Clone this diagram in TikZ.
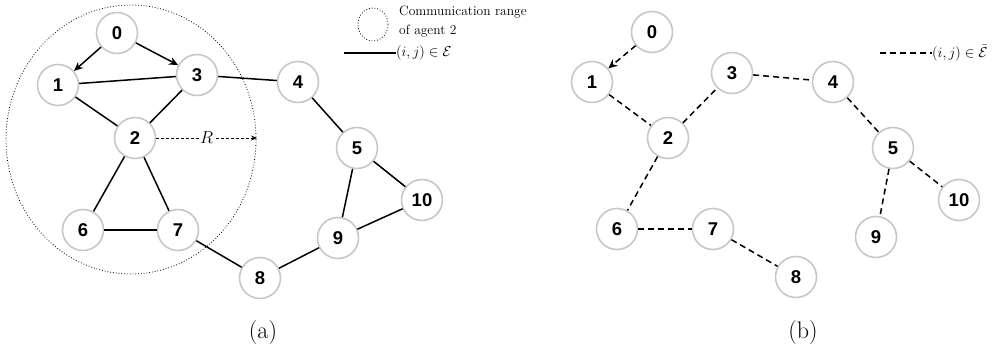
\documentclass[tikz,border=0pt]{standalone}
\usepackage{fontspec}
\newfontfamily\nodefont{Liberation Sans}
\usetikzlibrary{arrows.meta,shapes.geometric}
\begin{document}
\begin{tikzpicture}[x=1pt,y=-1pt,
  agent/.style={circle,draw=black!22,line width=1.6pt,fill=white,minimum size=41pt,inner sep=0pt,font=\nodefont\bfseries\fontsize{18.5}{18.5}\selectfont},
  edge/.style={line width=1.5pt,black},
  dedge/.style={line width=1.5pt,black,dash pattern=on 6pt off 4pt},
  arr/.style={-{Stealth[length=9pt,width=8pt]}},
  lbl/.style={font=\fontsize{13.5}{19}\selectfont,inner sep=0pt},
  mlbl/.style={font=\fontsize{14}{14}\selectfont,inner sep=0pt},
  subcap/.style={font=\fontsize{24}{24}\selectfont}]
\useasboundingbox (0,0) rectangle (993,352);
% panel (a)
\draw[dotted,line width=0.8pt] (131,139.5) ellipse [x radius=125, y radius=134.5];
\node[agent] (a0) at (117,33) {0};
\node[agent] (a1) at (58,85) {1};
\node[agent] (a3) at (197,75) {3};
\node[agent] (a2) at (135,138) {2};
\node[agent] (a4) at (298,82) {4};
\node[agent] (a5) at (357,148) {5};
\node[agent] (a10) at (422,200) {10};
\node[agent] (a9) at (338,238) {9};
\node[agent] (a8) at (260,278) {8};
\node[agent] (a7) at (178,230) {7};
\node[agent] (a6) at (83,230) {6};
\coordinate (rend) at (257,138);
\draw[edge,arr] (a0) -- (a1);
\draw[edge,arr] (a0) -- (a3);
\draw[edge] (a1) -- (a3);
\draw[edge] (a1) -- (a2);
\draw[edge] (a3) -- (a2);
\draw[edge] (a3) -- (a4);
\draw[edge] (a4) -- (a5);
\draw[edge] (a5) -- (a10);
\draw[edge] (a5) -- (a9);
\draw[edge] (a9) -- (a10);
\draw[edge] (a9) -- (a8);
\draw[edge] (a8) -- (a7);
\draw[edge] (a2) -- (a6);
\draw[edge] (a2) -- (a7);
\draw[edge] (a6) -- (a7);
\draw[line width=0.8pt,dash pattern=on 3pt off 2pt,-{Stealth[length=6pt,width=5pt]}] (a2) -- node[fill=white,inner sep=1pt,font=\fontsize{16}{16}\selectfont]{$R$} (rend);
% legend (a)
\node[draw,dotted,line width=0.8pt,ellipse,minimum width=30pt,minimum height=33pt,inner sep=0pt] (lg1) at (373,24.5) {};
\node[lbl,anchor=north west,align=left] (lt1) at (399,6) {Communication range\\of agent 2};
\coordinate (ls1) at (344,53);
\node[mlbl,anchor=west] (lt2) at (396,53) {$(i,j)\in\mathcal{E}$};
\draw[line width=1.4pt] (ls1) -- (lt2.west);
\node[subcap] (capa) at (263,333) {(a)};
% panel (b)
\node[agent] (b0) at (652,32) {0};
\node[agent] (b1) at (592,82) {1};
\node[agent] (b3) at (732,73) {3};
\node[agent] (b4) at (833,82) {4};
\node[agent] (b2) at (668,138) {2};
\node[agent] (b5) at (893,148) {5};
\node[agent] (b10) at (959,200) {10};
\node[agent] (b9) at (876,237) {9};
\node[agent] (b8) at (796,277) {8};
\node[agent] (b7) at (713,229) {7};
\node[agent] (b6) at (617,229) {6};
\draw[dedge,arr] (b0) -- (b1);
\draw[dedge] (b1) -- (b2);
\draw[dedge] (b2) -- (b3);
\draw[dedge] (b3) -- (b4);
\draw[dedge] (b4) -- (b5);
\draw[dedge] (b5) -- (b10);
\draw[dedge] (b5) -- (b9);
\draw[dedge] (b2) -- (b6);
\draw[dedge] (b6) -- (b7);
\draw[dedge] (b7) -- (b8);
% legend (b)
\coordinate (ls2) at (880,53);
\node[mlbl,anchor=west] (lt3) at (932,53) {$(i,j)\in\bar{\mathcal{E}}$};
\draw[line width=1.4pt,dash pattern=on 6pt off 4pt] (ls2) -- (lt3.west);
\node[subcap] (capb) at (803,333) {(b)};
\end{tikzpicture}
\end{document}
